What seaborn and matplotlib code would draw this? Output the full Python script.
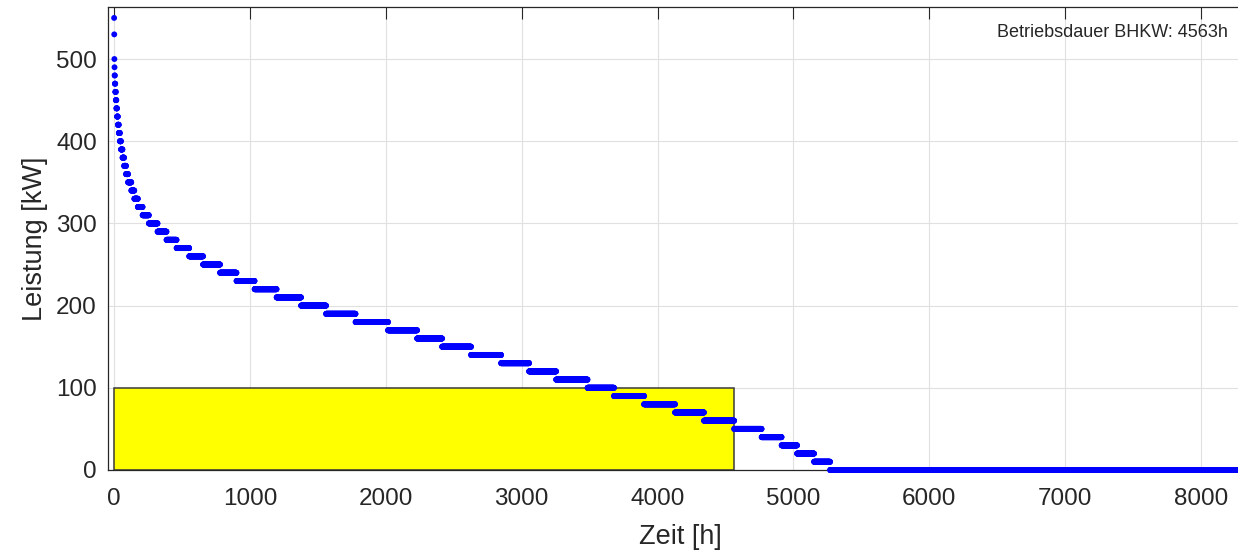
"""
Jahresdauerlinie der Wärmeleistung mit BHKW-Betriebsfläche.

Writes out.png (1238x550).
"""
import matplotlib
matplotlib.use("Agg")
import matplotlib.pyplot as plt
import numpy as np
import pandas as pd
import seaborn as sns

# Leistungsstufen [kW] und Stunde, bis zu der die jeweilige Stufe reicht
LEVELS = [550, 530, 500, 490, 480, 470, 460, 450, 440, 430, 420, 410, 400,
          390, 380, 370, 360, 350, 340, 330, 320, 310, 300, 290, 280, 270,
          260, 250, 240, 230, 220, 210, 200, 190, 180, 170, 160, 150, 140,
          130, 120, 110, 100, 90, 80, 70, 60, 50, 40, 30, 20, 10, 0]
END_HOURS = [1, 2, 3, 4, 6, 9, 13, 17, 22, 28, 35, 43, 51,
             62, 74, 88, 103, 127, 149, 175, 210, 256, 320, 386, 460, 553,
             655, 780, 901, 1034, 1196, 1376, 1560, 1777, 2016, 2230, 2414,
             2627, 2848, 3054, 3253, 3484, 3679, 3900, 4128, 4341, 4563,
             4765, 4912, 5026, 5151, 5269, 8760]

BHKW_HOURS = 4563
BHKW_POWER = 100

X_TICKS = [0, 1000, 2000, 3000, 4000, 5000, 6000, 7000, 8000]
Y_TICKS = [0, 100, 200, 300, 400, 500]

INK = "#262626"

sns.set_theme(style="whitegrid")
plt.rcParams["font.family"] = ["Liberation Sans", "DejaVu Sans"]

durations = np.diff(np.concatenate([[0], END_HOURS]))
df = pd.DataFrame({
    "stunde": np.arange(1, END_HOURS[-1] + 1),
    "leistung": np.repeat(LEVELS, durations),
})

fig = plt.figure(figsize=(12.38, 5.5), dpi=100)
ax = fig.add_axes([108 / 1238, 80 / 550, 1144 / 1238, 463 / 550])
ax.set_facecolor("white")

# BHKW-Fläche
ax.bar(0, BHKW_POWER, width=BHKW_HOURS, align="edge", color="#ffff00",
       edgecolor="#3a3a3a", linewidth=1.1, zorder=2)

sns.scatterplot(data=df, x="stunde", y="leistung", ax=ax, color="#0000ff",
                s=18, linewidth=0, edgecolor="none", zorder=5, clip_on=False,
                legend=False)

ax.set_xlim(-44, 8374)
ax.set_ylim(0, 563.3)
ax.set_xticks(X_TICKS)
ax.set_yticks(Y_TICKS)

ax.grid(True, color="#e0e0e0", linewidth=0.8)
ax.set_axisbelow(True)
for side, spine in ax.spines.items():
    spine.set_visible(True)
    spine.set_color(INK)
    spine.set_linewidth(0.9)
    spine.set_zorder(4)

ax.tick_params(axis="both", direction="in", length=8.3, width=0.8,
               color=INK, labelcolor=INK, labelsize=17.5, top=True, right=True)
ax.tick_params(axis="x", pad=13)
ax.tick_params(axis="y", pad=8)

ax.set_xlabel("Zeit [h]", fontsize=19.5, color=INK, labelpad=10)
ax.set_ylabel("Leistung [kW]", fontsize=19.5, color=INK, labelpad=6)

ax.text(8200, 532, f"Betriebsdauer BHKW: {BHKW_HOURS}h", ha="right",
        va="center", fontsize=13, color=INK)

fig.savefig("out.png", dpi=100)
plt.close(fig)
